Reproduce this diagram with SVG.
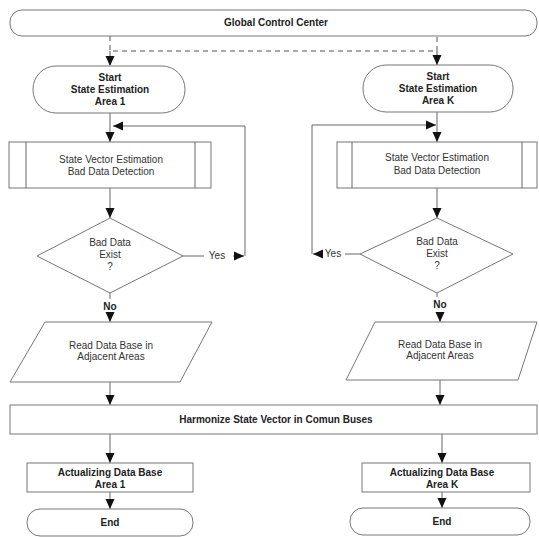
<svg xmlns="http://www.w3.org/2000/svg" width="539" height="537" viewBox="0 0 539 537">
<defs>
<marker id="ah" viewBox="0 0 10 10" refX="10" refY="5" markerWidth="10" markerHeight="10" markerUnits="userSpaceOnUse" orient="auto"><path d="M0,0.5 L10,5 L0,9.5 Z" fill="#111"/></marker>
<style>
.shape{fill:#fff;stroke:#777;stroke-width:1}
.line{fill:none;stroke:#666;stroke-width:1}
.dash{fill:none;stroke:#555;stroke-width:1;stroke-dasharray:5,4}
.b{font-family:"Liberation Sans",Arial,sans-serif;font-size:10px;font-weight:bold;fill:#222;text-anchor:middle}
.n{font-family:"Liberation Sans",Arial,sans-serif;font-size:10px;fill:#333;text-anchor:middle}
</style>
</defs>
<rect width="539" height="537" fill="#fff"/>
<g id="connectors">
<path class="dash" d="M110,36 V51 H437 V36"/>
<path class="dash" d="M110,51 V66" marker-end="url(#ah)"/>
<path class="dash" d="M437,51 V65" marker-end="url(#ah)"/>
<path class="line" d="M110,113 V142" marker-end="url(#ah)"/>
<path class="line" d="M245,256 V126 H113" marker-end="url(#ah)"/>
<path class="line" d="M183,256 H204"/>
<path class="line" d="M233,256 H244" marker-end="url(#ah)"/>
<path class="line" d="M110,188 V218" marker-end="url(#ah)"/>
<path class="line" d="M110,293 V299"/>
<path class="line" d="M110,313 V322" marker-end="url(#ah)"/>
<path class="line" d="M110,382 V405" marker-end="url(#ah)"/>
<path class="line" d="M437,112 V142" marker-end="url(#ah)"/>
<path class="line" d="M312,254 V125 H436" marker-end="url(#ah)"/>
<path class="line" d="M360,254 H345"/>
<path class="line" d="M322,254 H313" marker-end="url(#ah)"/>
<path class="line" d="M437,188 V218" marker-end="url(#ah)"/>
<path class="line" d="M437,293 V297"/>
<path class="line" d="M440,312 V322" marker-end="url(#ah)"/>
<path class="line" d="M440,380 V405" marker-end="url(#ah)"/>
<path class="line" d="M110,434 V463" marker-end="url(#ah)"/>
<path class="line" d="M110,492 V509" marker-end="url(#ah)"/>
<path class="line" d="M442,434 V463" marker-end="url(#ah)"/>
<path class="line" d="M442,492 V508" marker-end="url(#ah)"/>
<text class="n" x="217" y="259">Yes</text>
<text class="n" x="333" y="257">Yes</text>
<text class="b" x="110" y="310">No</text>
<text class="b" x="440" y="308">No</text>
</g>
<g id="global">
<rect class="shape" x="10" y="10" width="527" height="26" rx="12"/>
<text class="b" x="276" y="26">Global Control Center</text>
</g>
<g id="start1">
<rect class="shape" x="33" y="66" width="152" height="47" rx="23"/>
<text class="b" x="110" y="81">Start</text>
<text class="b" x="110" y="93">State Estimation</text>
<text class="b" x="110" y="105">Area 1</text>
</g>
<g id="startK">
<rect class="shape" x="363" y="65" width="150" height="47" rx="23"/>
<text class="b" x="438" y="80">Start</text>
<text class="b" x="438" y="92">State Estimation</text>
<text class="b" x="438" y="104">Area K</text>
</g>
<g id="sve1">
<rect class="shape" x="9" y="142" width="202" height="46"/>
<line class="line" x1="26" y1="142" x2="26" y2="188"/>
<line class="line" x1="195" y1="142" x2="195" y2="188"/>
<text class="n" x="111" y="163">State Vector Estimation</text>
<text class="n" x="111" y="175">Bad Data Detection</text>
</g>
<g id="sveK">
<rect class="shape" x="337" y="142" width="200" height="46"/>
<line class="line" x1="352" y1="142" x2="352" y2="188"/>
<line class="line" x1="522" y1="142" x2="522" y2="188"/>
<text class="n" x="437" y="161">State Vector Estimation</text>
<text class="n" x="437" y="174">Bad Data Detection</text>
</g>
<g id="bad1">
<path class="shape" d="M110,218 L183,256 L110,293 L37,256 Z"/>
<text class="n" x="110" y="246">Bad Data</text>
<text class="n" x="110" y="258">Exist</text>
<text class="n" x="110" y="270">?</text>
</g>
<g id="badK">
<path class="shape" d="M437,218 L513,254 L437,293 L360,254 Z"/>
<text class="n" x="437" y="245">Bad Data</text>
<text class="n" x="437" y="257">Exist</text>
<text class="n" x="437" y="269">?</text>
</g>
<g id="read1">
<path class="shape" d="M45,322 L212,322 L180,382 L10,382 Z"/>
<text class="n" x="111" y="349">Read Data Base in</text>
<text class="n" x="111" y="360">Adjacent Areas</text>
</g>
<g id="readK">
<path class="shape" d="M375,322 L537,322 L518,380 L346,380 Z"/>
<text class="n" x="440" y="348">Read Data Base in</text>
<text class="n" x="440" y="359">Adjacent Areas</text>
</g>
<g id="harmonize">
<rect class="shape" x="10" y="405" width="527" height="29"/>
<text class="b" x="276" y="423">Harmonize State Vector in Comun Buses</text>
</g>
<g id="act1">
<rect class="shape" x="27" y="463" width="166" height="29"/>
<text class="b" x="110" y="476">Actualizing Data Base</text>
<text class="b" x="110" y="488">Area 1</text>
</g>
<g id="actK">
<rect class="shape" x="362" y="463" width="168" height="29"/>
<text class="b" x="442" y="476">Actualizing Data Base</text>
<text class="b" x="442" y="488">Area K</text>
</g>
<g id="end1">
<rect class="shape" x="27" y="509" width="166" height="27" rx="13"/>
<text class="b" x="110" y="526">End</text>
</g>
<g id="endK">
<rect class="shape" x="350" y="508" width="180" height="27" rx="13"/>
<text class="b" x="442" y="525">End</text>
</g>
</svg>
